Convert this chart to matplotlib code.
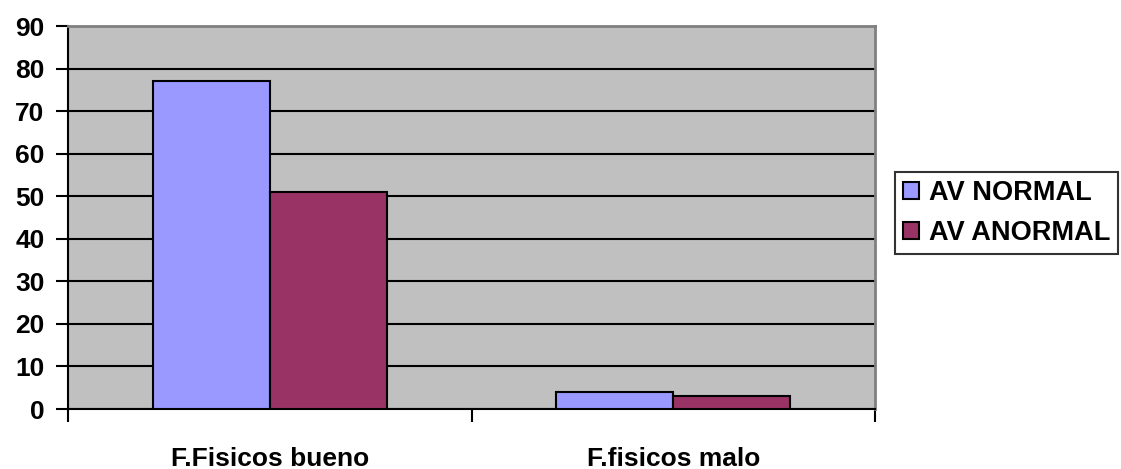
import matplotlib.pyplot as plt
import numpy as np

# Datos del grafico
categorias = ['F.Fisicos bueno', 'F.fisicos malo']
av_normal = [77, 4]
av_anormal = [51, 3]
series = ['AV NORMAL', 'AV ANORMAL']
colores = ['#9999FF', '#993366']

plt.rcParams['font.family'] = ['Liberation Sans', 'DejaVu Sans']
plt.rcParams['font.weight'] = 'bold'

fig = plt.figure(figsize=(11.21, 4.69), dpi=100)
ax = fig.add_axes([68 / 1121, 1 - 409 / 469, (875 - 68) / 1121, (409 - 26) / 469])
ax.set_facecolor('#C0C0C0')

x = np.arange(len(categorias))
ancho = 0.29
ax.bar(x - ancho / 2, av_normal, ancho, color=colores[0], edgecolor='black',
       linewidth=1.5, label=series[0], zorder=3)
ax.bar(x + ancho / 2, av_anormal, ancho, color=colores[1], edgecolor='black',
       linewidth=1.5, label=series[1], zorder=3)

ax.set_xlim(-0.5, 1.5)
ax.set_ylim(0, 90)
ax.set_yticks(range(0, 91, 10))
ax.yaxis.grid(True, color='black', linewidth=1.5, zorder=1)

# Ticks del eje x en los limites de cada categoria
ax.set_xticks([-0.5, 0.5, 1.5])
ax.set_xticklabels([])
ax.set_xticks(x, minor=True)
ax.set_xticklabels(categorias, minor=True, fontsize=19, fontweight='bold')
ax.tick_params(axis='x', which='minor', length=0, pad=27)
ax.tick_params(axis='x', which='major', length=9, width=1.5, direction='out')
ax.tick_params(axis='y', length=9, width=1.5, labelsize=19, pad=8)
for t in ax.get_yticklabels():
    t.set_fontweight('bold')

ax.spines['left'].set_linewidth(1.5)
ax.spines['bottom'].set_linewidth(1.5)
ax.spines['top'].set_color('#808080')
ax.spines['right'].set_color('#808080')
ax.spines['top'].set_linewidth(2)
ax.spines['right'].set_linewidth(2)

leg = fig.legend(loc='center left', bbox_to_anchor=(895 / 1121, 1 - 213 / 469),
                 frameon=True, fancybox=False, edgecolor='black', fontsize=19.5,
                 handlelength=0.6, handleheight=0.6, handletextpad=0.35,
                 borderpad=0.3, labelspacing=0.5, borderaxespad=0)
leg.get_frame().set_linewidth(1.5)
for t in leg.get_texts():
    t.set_fontweight('bold')

fig.savefig('out.png', dpi=100)
